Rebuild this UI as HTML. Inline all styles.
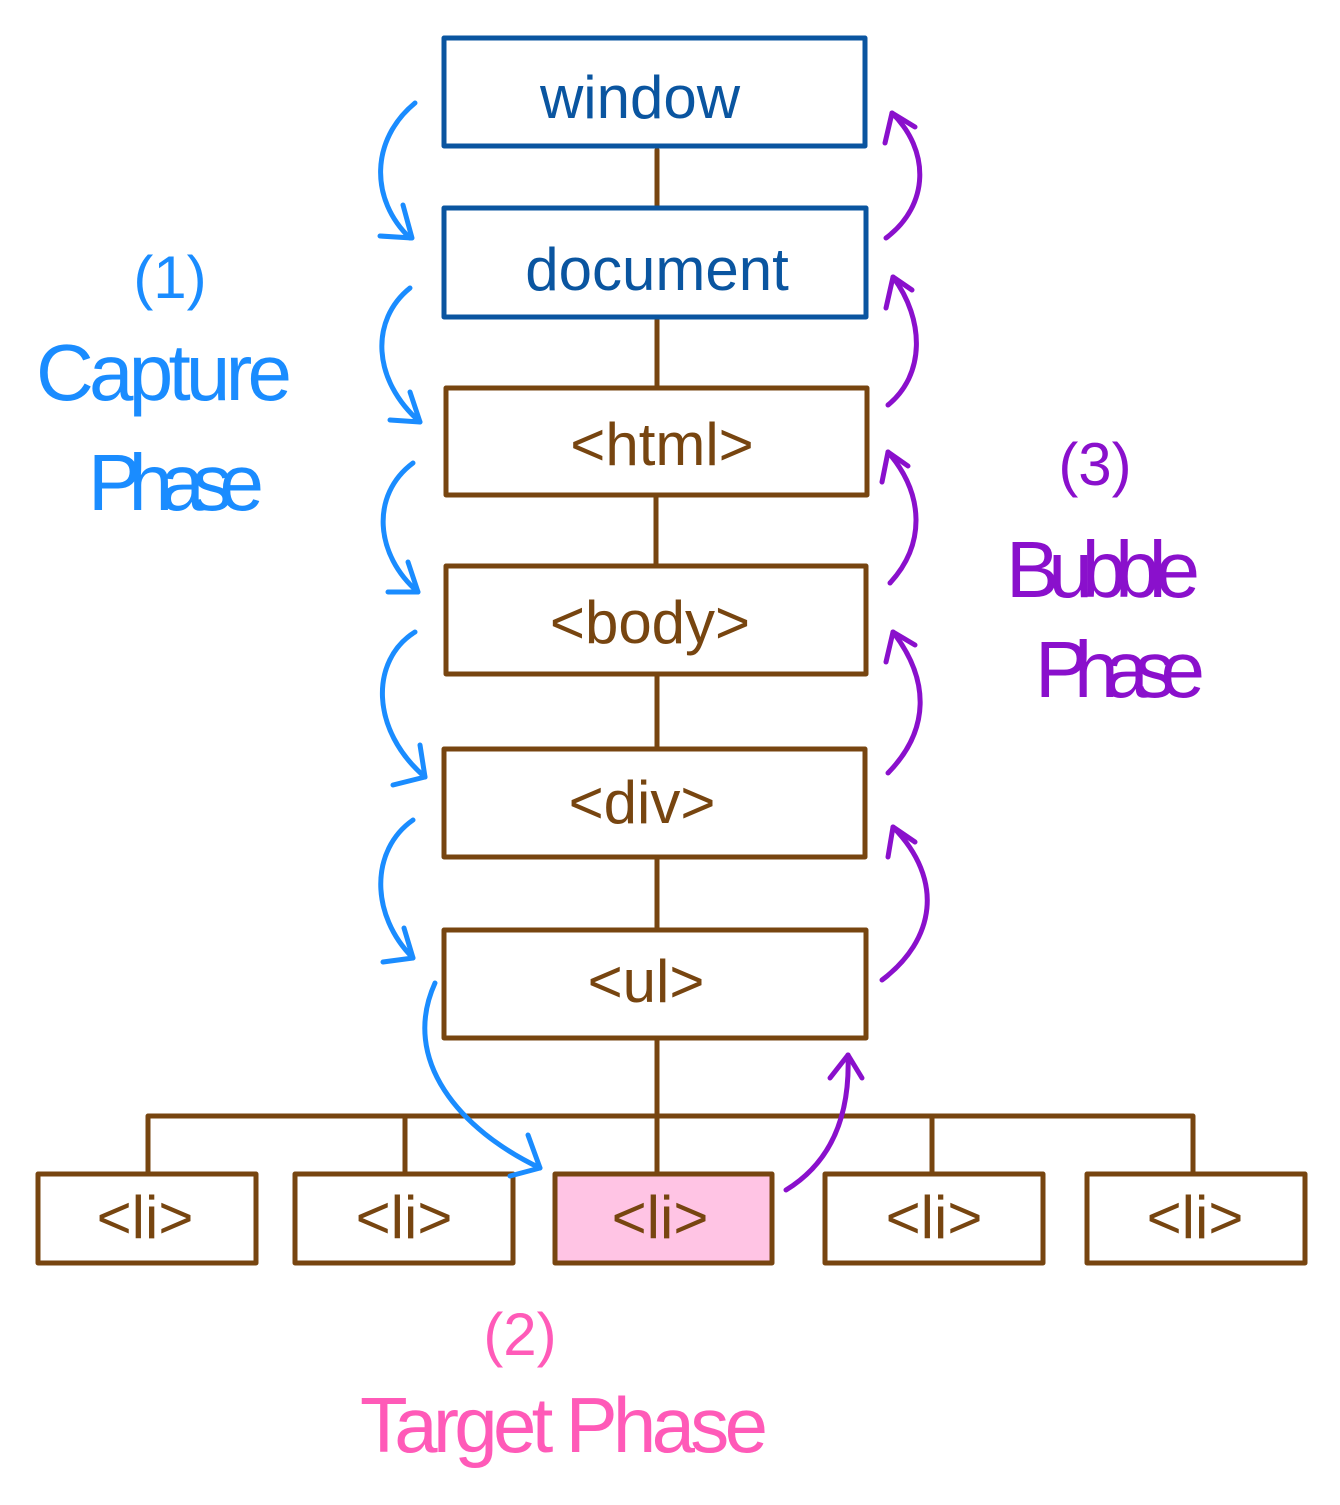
<!DOCTYPE html>
<html><head><meta charset="utf-8"><style>
body{margin:0;background:#fff}
svg text{font-family:"Liberation Sans",sans-serif}
</style></head><body>
<svg width="1340" height="1500" viewBox="0 0 1340 1500" xmlns="http://www.w3.org/2000/svg">
<g fill="none" stroke-linecap="round" stroke-linejoin="round">
<!-- connectors -->
<g stroke="#774510" stroke-width="5">
<line x1="657" y1="150" x2="657" y2="206"/>
<line x1="657" y1="320" x2="657" y2="386"/>
<line x1="656" y1="497" x2="656" y2="564"/>
<line x1="657" y1="676" x2="657" y2="747"/>
<line x1="657" y1="859" x2="657" y2="928"/>
<line x1="657" y1="1040" x2="657" y2="1172"/>
<polyline points="148,1172 148,1116 1193,1116 1193,1172"/>
<line x1="405" y1="1116" x2="405" y2="1172"/>
<line x1="932" y1="1116" x2="932" y2="1172"/>
</g>
<!-- boxes -->
<g stroke="#0a55a0" stroke-width="5">
<rect x="444" y="38" width="421" height="108"/>
<rect x="444" y="208" width="422" height="109"/>
</g>
<g stroke="#774510" stroke-width="5">
<rect x="446" y="388" width="421" height="107"/>
<rect x="446" y="566" width="420" height="108"/>
<rect x="444" y="749" width="421" height="108"/>
<rect x="444" y="930" width="422" height="108"/>
<rect x="38" y="1174" width="218" height="89"/>
<rect x="295" y="1174" width="218" height="89"/>
<rect x="555" y="1174" width="217" height="89" fill="#ffc4e4"/>
<rect x="825" y="1174" width="218" height="89"/>
<rect x="1087" y="1174" width="218" height="89"/>
</g>
<!-- capture arrows -->
<g stroke="#1a8cff" stroke-width="5">
<path d="M415 103 C370 140 370 200 410 238"/><polyline points="403,205 412,238 380,236"/>
<path d="M410 288 C370 320 372 380 420 422"/><polyline points="410,392 420,422 390,420"/>
<path d="M413 463 C370 495 375 555 418 592"/><polyline points="408,562 418,592 388,592"/>
<path d="M415 632 C370 660 370 730 425 777"/><polyline points="420,745 425,777 393,785"/>
<path d="M413 820 C370 850 370 915 413 958"/><polyline points="404,928 413,958 383,962"/>
<path d="M435 983 C400 1060 460 1130 540 1168"/><polyline points="528,1135 540,1168 510,1176"/>
</g>
<!-- bubble arrows -->
<g stroke="#8a10cc" stroke-width="5">
<path d="M886 238 C930 205 930 150 892 113"/><polyline points="885,143 892,113 915,127"/>
<path d="M888 405 C925 375 925 320 893 277"/><polyline points="886,308 893,277 912,290"/>
<path d="M890 583 C925 545 925 495 888 452"/><polyline points="882,482 888,452 908,466"/>
<path d="M888 773 C930 730 930 680 893 632"/><polyline points="886,662 893,632 915,645"/>
<path d="M882 980 C935 940 945 880 893 827"/><polyline points="888,857 893,827 915,842"/>
<path d="M786 1190 C835 1160 850 1110 848 1055"/><polyline points="830,1078 848,1055 862,1078"/>
</g>
</g>
<!-- labels -->
<g text-anchor="middle" font-size="60">
<text x="640" y="118" fill="#0a55a0">window</text>
<text x="657" y="290" fill="#0a55a0">document</text>
<text x="662" y="465" fill="#774510">&lt;html&gt;</text>
<text x="650" y="643" fill="#774510">&lt;body&gt;</text>
<text x="642" y="823" fill="#774510">&lt;div&gt;</text>
<text x="646" y="1002" fill="#774510">&lt;ul&gt;</text>
<text x="145" y="1238" fill="#774510">&lt;li&gt;</text>
<text x="404" y="1238" fill="#774510">&lt;li&gt;</text>
<text x="660" y="1238" fill="#774510">&lt;li&gt;</text>
<text x="934" y="1238" fill="#774510">&lt;li&gt;</text>
<text x="1195" y="1238" fill="#774510">&lt;li&gt;</text>
</g>
<g text-anchor="middle">
<text x="170" y="298" font-size="60" fill="#1a8cff">(1)</text>
<text x="164" y="400" font-size="80" fill="#1a8cff" textLength="256">Capture</text>
<text x="176" y="510" font-size="80" fill="#1a8cff" textLength="176">Phase</text>
<text x="1095" y="485" font-size="60" fill="#8a10cc">(3)</text>
<text x="1103" y="597" font-size="80" fill="#8a10cc" textLength="194">Bubble</text>
<text x="1120" y="697" font-size="80" fill="#8a10cc" textLength="170">Phase</text>
<text x="520" y="1355" font-size="60" fill="#ff5ab8">(2)</text>
<text x="564" y="1452" font-size="78" fill="#ff5ab8" textLength="408">Target Phase</text>
</g>
</svg>
</body></html>
